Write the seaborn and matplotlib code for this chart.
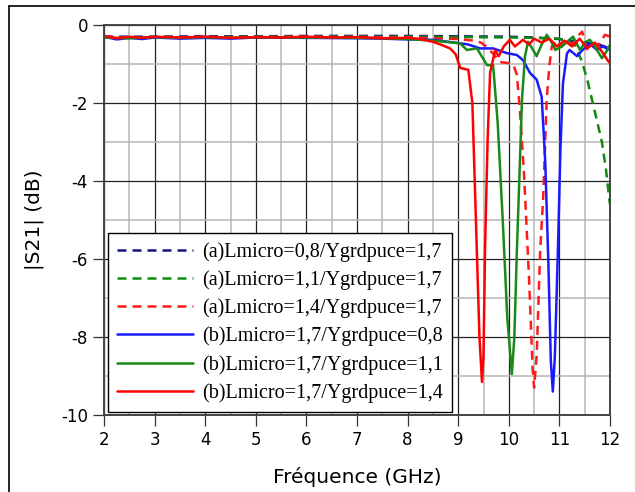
import numpy as np
import pandas as pd
import matplotlib
matplotlib.use("Agg")
import matplotlib.pyplot as plt
import seaborn as sns
from matplotlib.lines import Line2D
from matplotlib.ticker import MultipleLocator

# ==============================
# DATA
# ==============================
freq_a08 = [2, 3, 4, 5, 6, 7, 8, 9, 10, 10.5, 11, 11.5, 11.8, 12]
s21_a08 = [-0.30, -0.30, -0.29, -0.29, -0.28, -0.28, -0.28, -0.29, -0.30, -0.32, -0.36, -0.45, -0.51, -0.60]

freq_a11 = [2, 3, 4, 5, 6, 7, 8, 9, 10, 10.5, 11, 11.3, 11.45, 11.55, 11.66, 11.75, 11.84, 11.92, 11.98, 12]
s21_a11 = [-0.32, -0.31, -0.31, -0.30, -0.30, -0.30, -0.30, -0.31, -0.32, -0.33, -0.35, -0.50, -0.95, -1.40, -2.00,
           -2.50, -3.00, -3.70, -4.40, -4.60]

freq_a14 = [2, 2.5, 3, 3.5, 4, 5, 6, 7, 8, 8.5, 9, 9.3, 9.45, 9.55, 9.7, 9.83, 10.0, 10.1, 10.16, 10.22, 10.3,
            10.4, 10.47, 10.5, 10.55, 10.62, 10.68, 10.75, 10.8, 10.85, 10.95, 11.05, 11.15, 11.25, 11.35, 11.45,
            11.55, 11.65, 11.8, 11.9, 12]
s21_a14 = [-0.30, -0.33, -0.31, -0.33, -0.31, -0.31, -0.30, -0.31, -0.32, -0.34, -0.36, -0.40, -0.45, -0.55,
           -0.75, -0.95, -0.98, -1.05, -1.28, -2.20, -3.80, -6.50, -8.80, -9.30, -8.50, -5.80, -4.40, -1.90, -1.07,
           -0.55, -0.40, -0.55, -0.40, -0.50, -0.30, -0.17, -0.65, -0.55, -0.47, -0.25, -0.30]

freq_b08 = [2, 2.25, 2.5, 2.75, 3, 3.5, 4, 4.5, 5, 6, 7, 7.5, 8, 8.5, 9.04, 9.2, 9.43, 9.69, 9.96, 10.16, 10.28,
            10.42, 10.55, 10.65, 10.72, 10.78, 10.83, 10.87, 10.91, 10.97, 11.02, 11.07, 11.15, 11.2, 11.35, 11.45,
            11.6, 11.74, 11.85, 12]
s21_b08 = [-0.30, -0.37, -0.33, -0.36, -0.32, -0.35, -0.33, -0.35, -0.32, -0.33, -0.34, -0.35, -0.37, -0.38,
           -0.47, -0.50, -0.60, -0.60, -0.72, -0.77, -0.90, -1.23, -1.40, -1.84, -3.50, -6.00, -8.60, -9.40, -8.50,
           -5.80, -3.20, -1.50, -0.73, -0.64, -0.80, -0.65, -0.47, -0.64, -0.55, -0.64]

freq_b11 = [2, 2.5, 3, 3.5, 4, 4.5, 5, 6, 7, 7.5, 8, 8.5, 9.04, 9.17, 9.37, 9.57, 9.69, 9.78, 9.88, 9.97, 10.06,
            10.11, 10.16, 10.22, 10.26, 10.32, 10.38, 10.48, 10.55, 10.65, 10.75, 10.85, 10.92, 11.05, 11.15, 11.27,
            11.41, 11.5, 11.6, 11.7, 11.84, 11.92, 12]
s21_b11 = [-0.32, -0.34, -0.31, -0.33, -0.31, -0.33, -0.31, -0.32, -0.33, -0.34, -0.36, -0.40, -0.47, -0.64,
           -0.60, -1.03, -1.03, -2.50, -5.00, -7.50, -8.95, -8.00, -5.77, -3.50, -1.92, -0.80, -0.43, -0.64, -0.80,
           -0.50, -0.25, -0.45, -0.64, -0.55, -0.43, -0.30, -0.64, -0.45, -0.38, -0.55, -0.85, -0.70, -0.51]

freq_b14 = [2, 2.25, 2.5, 2.75, 3, 3.5, 4, 4.5, 5, 5.5, 6, 6.5, 7, 7.5, 8, 8.2, 8.5, 8.65, 8.84, 8.95, 9.04, 9.2,
            9.28, 9.35, 9.42, 9.47, 9.5, 9.53, 9.58, 9.63, 9.73, 9.8, 9.9, 10.02, 10.12, 10.28, 10.4, 10.5, 10.65,
            10.8, 10.95, 11.1, 11.25, 11.4, 11.55, 11.7, 11.85, 11.95, 12]
s21_b14 = [-0.28, -0.34, -0.30, -0.33, -0.30, -0.32, -0.30, -0.33, -0.31, -0.32, -0.30, -0.32, -0.31, -0.34,
           -0.33, -0.35, -0.43, -0.50, -0.60, -0.75, -1.10, -1.15, -2.00, -5.00, -8.00, -9.15, -8.50, -5.77, -3.00,
           -1.23, -0.64, -0.80, -0.55, -0.38, -0.55, -0.38, -0.50, -0.35, -0.45, -0.35, -0.55, -0.40, -0.55, -0.35,
           -0.60, -0.45, -0.70, -0.90, -0.98]

labels = ["(a)Lmicro=0,8/Ygrdpuce=1,7", "(a)Lmicro=1,1/Ygrdpuce=1,7", "(a)Lmicro=1,4/Ygrdpuce=1,7",
          "(b)Lmicro=1,7/Ygrdpuce=0,8", "(b)Lmicro=1,7/Ygrdpuce=1,1", "(b)Lmicro=1,7/Ygrdpuce=1,4"]
colors = ["#14148c", "#0e8c0e", "#ff1a1a", "#1a1aff", "#178a17", "#ff0000"]
styles = [(0, (3.6, 2.4))] * 3 + ["-"] * 3

series = [(freq_a08, s21_a08), (freq_a11, s21_a11), (freq_a14, s21_a14),
          (freq_b08, s21_b08), (freq_b11, s21_b11), (freq_b14, s21_b14)]

# ==============================
# PLOT
# ==============================
sns.set_style("white")
plt.rcParams["font.family"] = ["DejaVu Sans"]
plt.rcParams["axes.unicode_minus"] = False
plt.rcParams["text.color"] = "black"
plt.rcParams["axes.labelcolor"] = "black"
plt.rcParams["xtick.color"] = "black"
plt.rcParams["ytick.color"] = "black"

fig = plt.figure(figsize=(6.35, 4.92), dpi=100)
ax = fig.add_axes([104 / 635, 1 - 415 / 492, 506 / 635, 390 / 492])

for (f, s), lab, c, ls in zip(series, labels, colors, styles):
    sns.lineplot(x=f, y=s, ax=ax, color=c, linestyle=ls, linewidth=1.8, label=lab)

ax.set_xlim(2, 12)
ax.set_ylim(-10, 0)
ax.xaxis.set_major_locator(MultipleLocator(1))
ax.xaxis.set_minor_locator(MultipleLocator(0.5))
ax.yaxis.set_major_locator(MultipleLocator(2))
ax.yaxis.set_minor_locator(MultipleLocator(1))
ax.grid(which="major", color="#222222", linewidth=0.9)
ax.grid(which="minor", color="#b5b5b5", linewidth=1.1)
ax.set_axisbelow(True)
ax.tick_params(which="major", bottom=True, left=True, direction="out", length=8, width=0.9,
               labelsize=12, color="#333333", pad=3.5)
ax.tick_params(which="minor", length=0)
for sp in ax.spines.values():
    sp.set_color("#444444")
    sp.set_linewidth(1.4)

ax.set_xlabel("Fréquence (GHz)", fontsize=14.5, labelpad=13)
ax.set_ylabel("|S21| (dB)", fontsize=14.5, labelpad=12)

leg = ax.legend(loc="lower left", bbox_to_anchor=(0.008, 0.008), borderaxespad=0,
                prop={"family": "Liberation Serif", "size": 14.5}, frameon=True, fancybox=False,
                edgecolor="black", framealpha=1, handlelength=3.75, labelspacing=0.42,
                borderpad=0.45, handletextpad=0.45)
leg.get_frame().set_linewidth(1.0)

# border of the figure (left and top only, as in the reference)
fig.add_artist(Line2D([9 / 635, 9 / 635], [0, 1 - 6 / 492], color="black", linewidth=1.2,
                      transform=fig.transFigure))
fig.add_artist(Line2D([9 / 635, 1], [1 - 6 / 492, 1 - 6 / 492], color="black", linewidth=1.2,
                      transform=fig.transFigure))

fig.savefig("out.png", dpi=100, facecolor="white")
